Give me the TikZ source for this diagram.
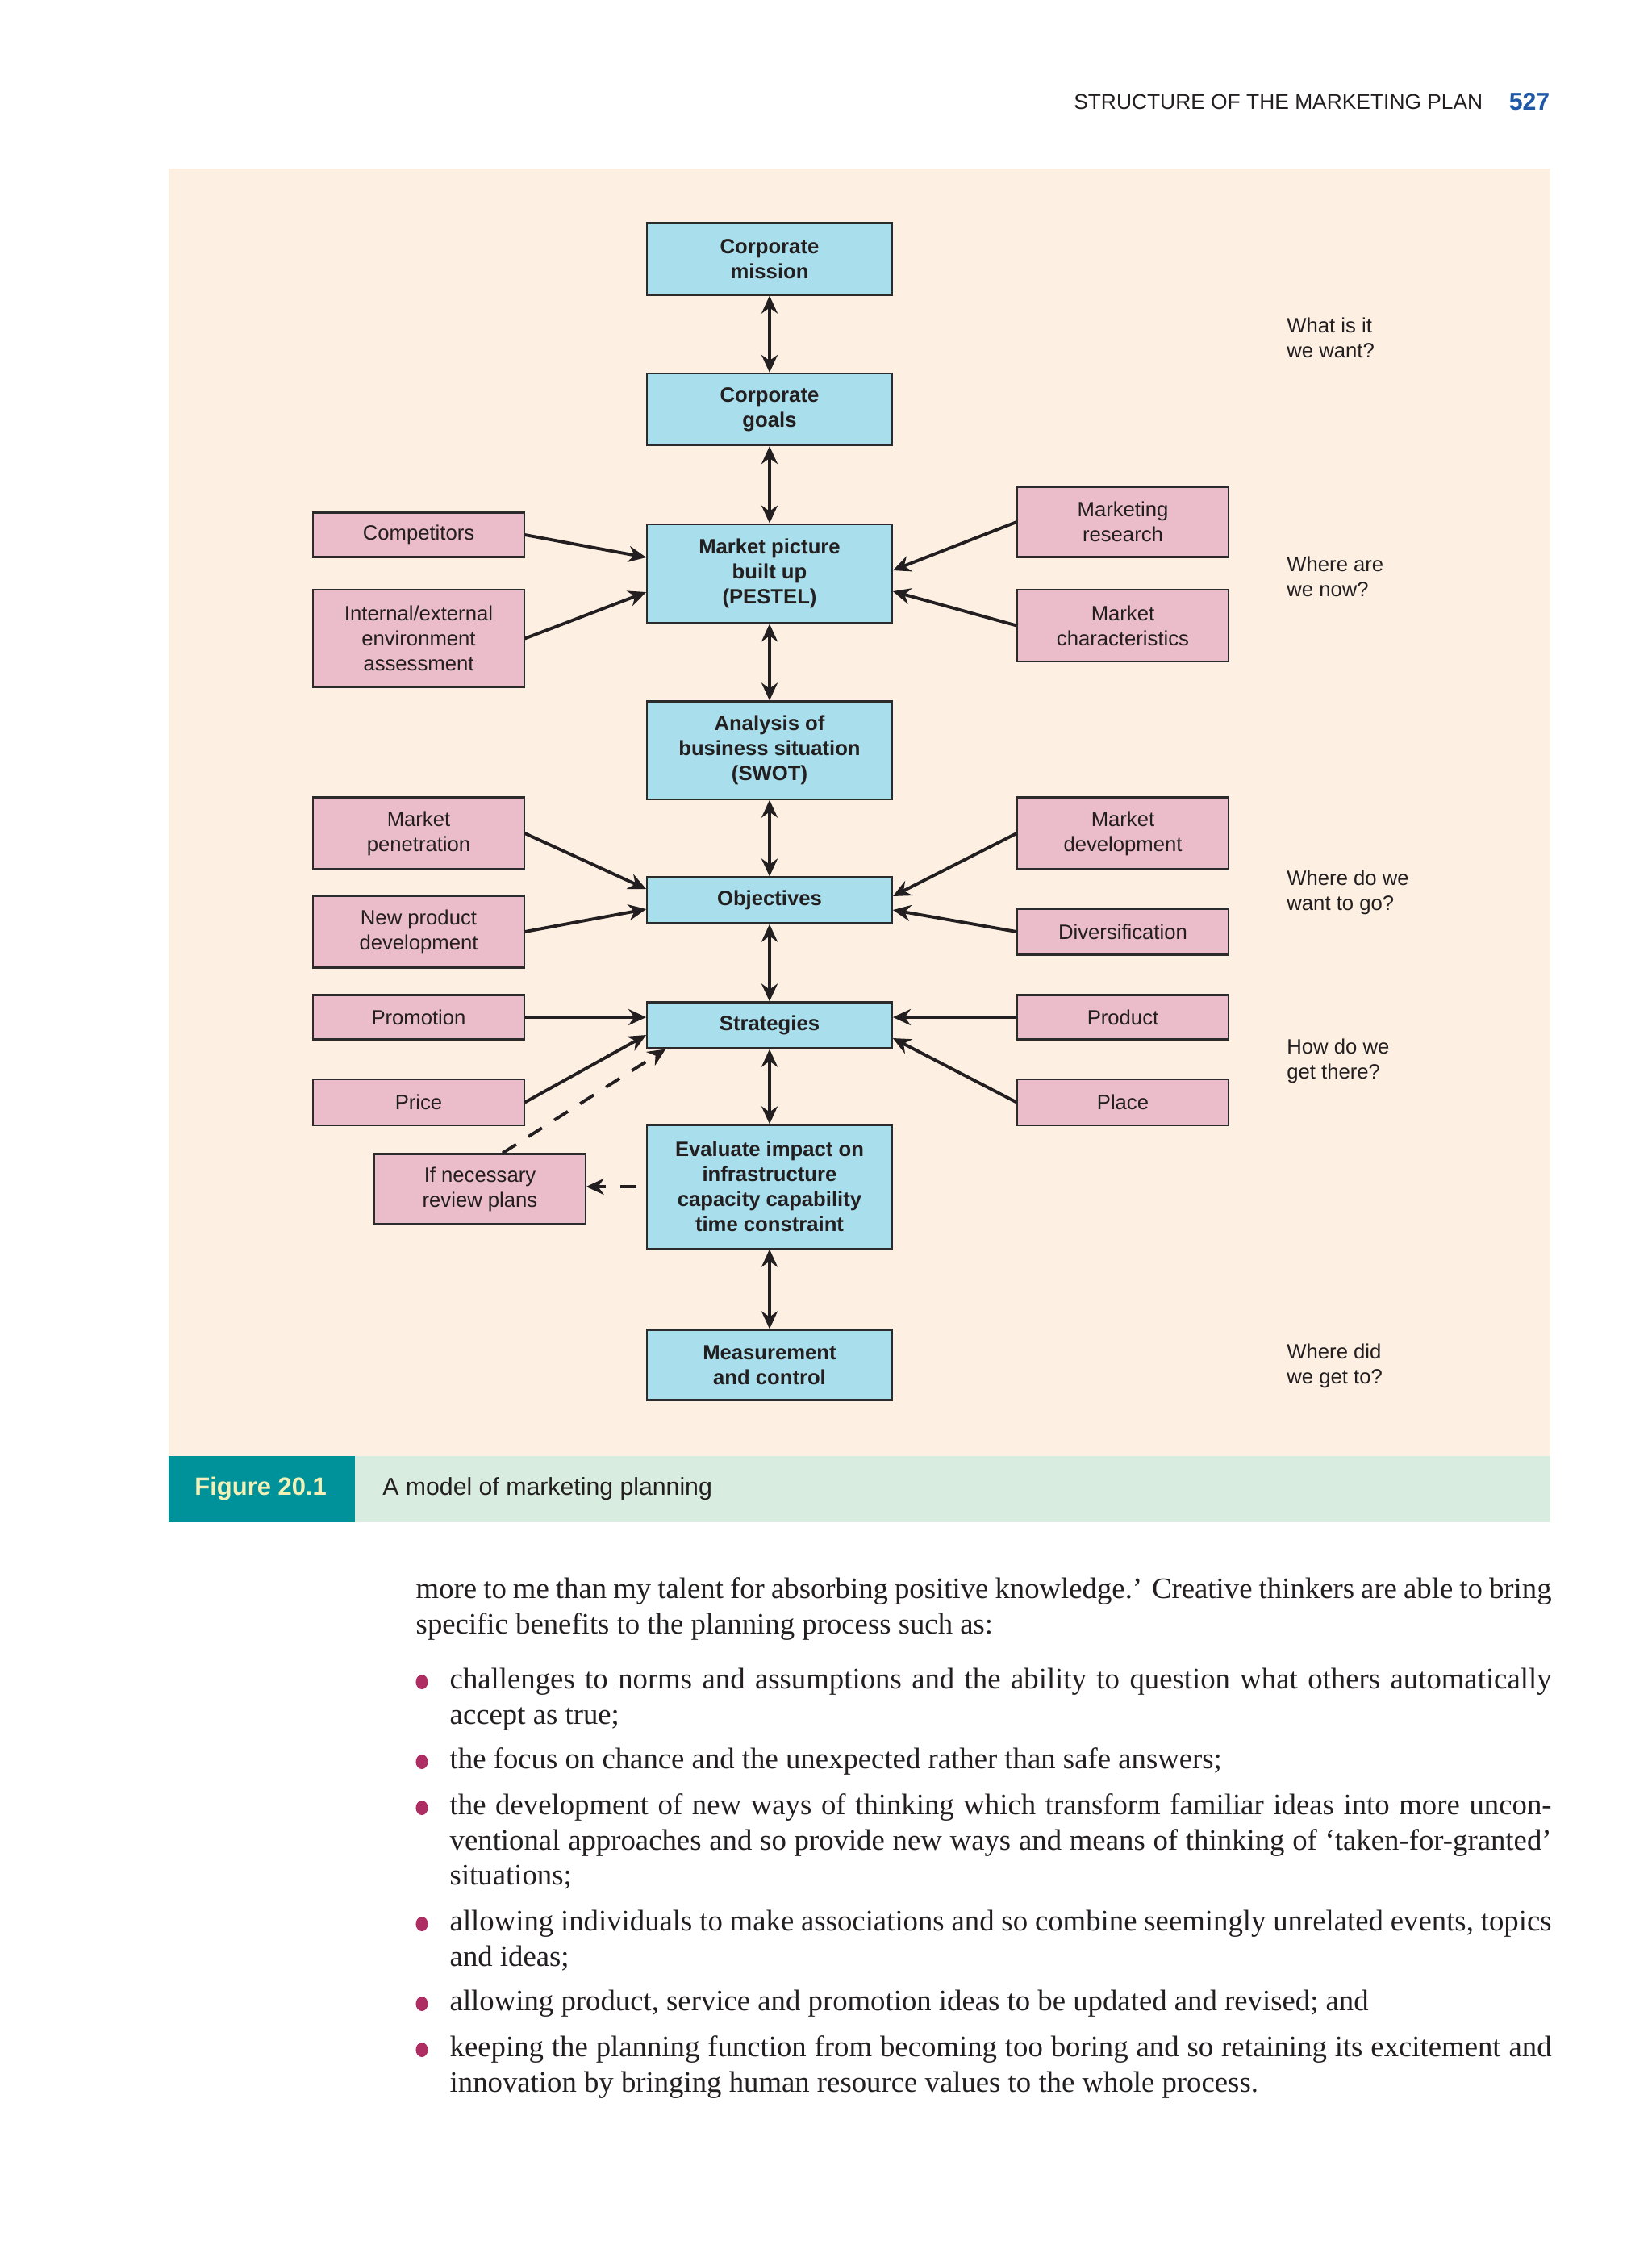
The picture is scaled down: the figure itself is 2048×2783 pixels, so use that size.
\documentclass[tikz,border=0pt]{standalone}
\usepackage{fontspec}
\setmainfont{Liberation Serif}
\newfontfamily\diafont{Liberation Sans}
\usetikzlibrary{arrows.meta,shapes.geometric}
\definecolor{panelbg}{HTML}{FDF0E3}
\definecolor{bluebox}{HTML}{A9DFEC}
\definecolor{pinkbox}{HTML}{EBBCC9}
\definecolor{capbar}{HTML}{D8ECDF}
\definecolor{capteal}{HTML}{00929B}
\definecolor{capfig}{HTML}{F4F1B8}
\definecolor{pageblue}{HTML}{1E58A6}
\definecolor{bulletred}{HTML}{AE2D62}
\definecolor{boxline}{HTML}{2B2B2B}
\definecolor{ink}{HTML}{231F20}
\begin{document}
\begin{tikzpicture}[x=0.01cm,y=-0.01cm,
  every node/.style={text=ink,font=\diafont\fontsize{7.3}{8.8}\selectfont},
  mainbox/.style={draw=boxline,line width=0.6pt,fill=bluebox,minimum width=3.035cm,align=center,
    font=\diafont\bfseries\fontsize{7.3}{8.8}\selectfont},
  sidebox/.style={draw=boxline,line width=0.6pt,fill=pinkbox,minimum width=2.61cm,align=center},
  question/.style={align=left,anchor=west},
  link/.style={line width=1.1pt,draw=ink,-{Stealth[length=2.2mm,width=2mm]}},
  twoway/.style={link,{Stealth[length=2.2mm,width=2mm]}-{Stealth[length=2.2mm,width=2mm]}},
  bodyline/.style={anchor=mid west,inner sep=0pt,font=\fontsize{10.45}{12.5}\selectfont},
  dot/.style={ellipse,fill=bulletred,inner sep=0pt,minimum width=0.15cm,minimum height=0.18cm}]
\fill[white] (0,0) rectangle (2048,2783);
\useasboundingbox (0,0) rectangle (2048,2783);
\fill[panelbg] (209,209) rectangle (1922,1805);
\fill[capbar] (209,1805) rectangle (1922,1887);
\fill[capteal] (209,1805) rectangle (440,1887);

\node (head) [anchor=east,inner sep=0pt,font=\diafont\fontsize{7.5}{9}\selectfont] at (1839,126) {STRUCTURE OF THE MARKETING PLAN};
\node (page) [anchor=east,inner sep=0pt,text=pageblue,font=\diafont\bfseries\fontsize{8.6}{10}\selectfont] at (1922,126) {527};

\node (cm) [mainbox,minimum height=0.89cm] at (954,321) {Corporate\\mission};
\node (cg) [mainbox,minimum height=0.89cm] at (954,507.5) {Corporate\\goals};
\node (mp) [mainbox,minimum height=1.225cm] at (954,711) {Market picture\\built up\\(PESTEL)};
\node (an) [mainbox,minimum height=1.21cm] at (954,930) {Analysis of\\business situation\\(SWOT)};
\node (ob) [mainbox,minimum height=0.57cm] at (954,1116) {Objectives};
\node (st) [mainbox,minimum height=0.57cm] at (954,1271) {Strategies};
\node (ev) [mainbox,minimum height=1.53cm] at (954,1471) {Evaluate impact on\\infrastructure\\capacity capability\\time constraint};
\node (ms) [mainbox,minimum height=0.87cm] at (954,1692) {Measurement\\and control};

\node (comp) [sidebox,minimum height=0.55cm] at (519,663) {Competitors};
\node (ie) [sidebox,minimum height=1.21cm] at (519,791.5) {Internal/external\\environment\\assessment};
\node (pen) [sidebox,minimum height=0.89cm] at (519,1033) {Market\\penetration};
\node (npd) [sidebox,minimum height=0.89cm] at (519,1155) {New product\\development};
\node (prom) [sidebox,minimum height=0.55cm] at (519,1261) {Promotion};
\node (price) [sidebox,minimum height=0.57cm] at (519,1366.5) {Price};
\node (rv) [sidebox,minimum height=0.87cm] at (595,1474) {If necessary\\review plans};

\node (mr) [sidebox,minimum height=0.87cm] at (1392,647) {Marketing\\research};
\node (mc) [sidebox,minimum height=0.89cm] at (1392,775.5) {Market\\characteristics};
\node (md) [sidebox,minimum height=0.89cm] at (1392,1033) {Market\\development};
\node (div) [sidebox,minimum height=0.57cm] at (1392,1155) {Diversification};
\node (prod) [sidebox,minimum height=0.55cm] at (1392,1261) {Product};
\node (place) [sidebox,minimum height=0.57cm] at (1392,1366.5) {Place};

\node (q1) [question] at (1583,419) {What is it\\we want?};
\node (q2) [question] at (1583,715) {Where are\\we now?};
\node (q3) [question] at (1583,1106) {Where do we\\want to go?};
\node (q4) [question] at (1583,1315) {How do we\\get there?};
\node (q5) [question] at (1583,1693) {Where did\\we get to?};

\draw[twoway] (cm.south) -- (cg.north);
\draw[twoway] (cg.south) -- (mp.north);
\draw[twoway] (mp.south) -- (an.north);
\draw[twoway] (an.south) -- (ob.north);
\draw[twoway] (ob.south) -- (st.north);
\draw[twoway] (st.south) -- (ev.north);
\draw[twoway] (ev.south) -- (ms.north);

\draw[link] (comp.east) -- ([yshift=2mm]mp.west);
\draw[link] (ie.east) -- ([yshift=-2.3mm]mp.west);
\draw[link] (mr.west) -- ([yshift=0.4mm]mp.east);
\draw[link] (mc.west) -- ([yshift=-2.2mm]mp.east);
\draw[link] (pen.east) -- ([yshift=1.4mm]ob.west);
\draw[link] (npd.east) -- ([yshift=-1.1mm]ob.west);
\draw[link] (md.west) -- ([yshift=0.5mm]ob.east);
\draw[link] (div.west) -- ([yshift=-1.2mm]ob.east);
\draw[link] (prom.east) -- (prom.east -| st.west);
\draw[link] (price.east) -- ([yshift=-1.2mm]st.west);
\draw[link] (prod.west) -- (prod.west -| st.east);
\draw[link] (place.west) -- ([yshift=-1.6mm]st.east);
\draw[link,dash pattern=on 2mm off 1.8mm] ([xshift=2.8mm]rv.north) -- ([xshift=2.4mm]st.south west);
\draw[link,dash pattern=on 2mm off 1.8mm] ([xshift=-1.2mm]ev.west) -- (ev.west -| rv.east);

\node (fig) [anchor=west,text=capfig,font=\diafont\bfseries\fontsize{8.8}{10}\selectfont] at (229,1846) {Figure 20.1};
\node (cap) [anchor=west,font=\diafont\fontsize{8.6}{10}\selectfont] at (462,1846) {A model of marketing planning};

\node (l1) [bodyline] at (515,1973) {\makebox[14.07cm][s]{more to me than my talent for absorbing positive knowledge.’ Creative thinkers are able to bring}};
\node (l2) [bodyline] at (515,2017.5) {specific benefits to the planning process such as:};
\node (b1) [dot] at (523,2085) {};
\node (l3) [bodyline] at (557,2085) {\makebox[13.65cm][s]{challenges to norms and assumptions and the ability to question what others automatically}};
\node (l4) [bodyline] at (557,2129) {accept as true;};
\node (b2) [dot] at (523,2184) {};
\node (l5) [bodyline] at (557,2184) {the focus on chance and the unexpected rather than safe answers;};
\node (b3) [dot] at (523,2241) {};
\node (l6) [bodyline] at (557,2241) {\makebox[13.65cm][s]{the development of new ways of thinking which transform familiar ideas into more uncon-}};
\node (l7) [bodyline] at (557,2285) {\makebox[13.65cm][s]{ventional approaches and so provide new ways and means of thinking of ‘taken-for-granted’}};
\node (l8) [bodyline] at (557,2328) {situations;};
\node (b4) [dot] at (523,2385) {};
\node (l9) [bodyline] at (557,2385) {\makebox[13.65cm][s]{allowing individuals to make associations and so combine seemingly unrelated events, topics}};
\node (l10) [bodyline] at (557,2429) {and ideas;};
\node (b5) [dot] at (523,2484) {};
\node (l11) [bodyline] at (557,2484) {allowing product, service and promotion ideas to be updated and revised; and};
\node (b6) [dot] at (523,2541) {};
\node (l12) [bodyline] at (557,2541) {\makebox[13.65cm][s]{keeping the planning function from becoming too boring and so retaining its excitement and}};
\node (l13) [bodyline] at (557,2585) {innovation by bringing human resource values to the whole process.};
\end{tikzpicture}
\end{document}
